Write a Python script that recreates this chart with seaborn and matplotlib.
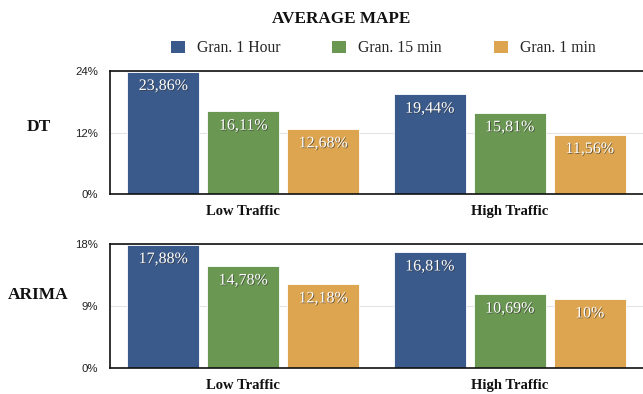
import numpy as np
import pandas as pd
import seaborn as sns
import matplotlib.pyplot as plt
import matplotlib.patheffects as pe
from matplotlib.patches import Patch

categories = ["Low Traffic", "High Traffic"]
series = ["Gran. 1 Hour", "Gran. 15 min", "Gran. 1 min"]
dt_values = {"Gran. 1 Hour": [23.86, 19.44], "Gran. 15 min": [16.11, 15.81], "Gran. 1 min": [12.68, 11.56]}
arima_values = {"Gran. 1 Hour": [17.88, 16.81], "Gran. 15 min": [14.78, 10.69], "Gran. 1 min": [12.18, 10.0]}
dt_ticks = [0, 12, 24]
arima_ticks = [0, 9, 18]
row_labels = ["DT", "ARIMA"]
colors = ["#3A5A8C", "#6A9752", "#DDA54F"]

def to_df(d):
    rows = []
    for s in series:
        for c, v in zip(categories, d[s]):
            rows.append({"cat": c, "series": s, "value": v})
    return pd.DataFrame(rows)

def fmt(v):
    s = f"{v:.2f}".replace(".", ",")
    if s.endswith(",00"):
        s = s[:-3]
    return s + "%"

sns.set_theme(style="white")
plt.rcParams["font.family"] = ["Liberation Serif", "DejaVu Sans"]

fig = plt.figure(figsize=(6.43, 3.94), dpi=100)
ax1 = fig.add_axes([0.171, 0.5076, 0.829, 0.3122])
ax2 = fig.add_axes([0.171, 0.066, 0.829, 0.3147])

label_y = [0.678, 0.251]

for ax, d, ticks, lab, ly in [(ax1, dt_values, dt_ticks, row_labels[0], label_y[0]),
                              (ax2, arima_values, arima_ticks, row_labels[1], label_y[1])]:
    df = to_df(d)
    sns.barplot(data=df, x="cat", y="value", hue="series", hue_order=series, order=categories,
                palette=colors, width=0.9, gap=0.1, ax=ax, legend=False,
                edgecolor="#ffffff", linewidth=0.6, saturation=1)
    ax.set_ylim(ticks[0], ticks[-1])
    ax.set_xlim(-0.5, 1.5)
    ax.set_yticks(ticks)
    ax.set_yticklabels([f"{t}%" for t in ticks], family="Liberation Sans", fontsize=8.2, color="#222222")
    ax.tick_params(axis="y", length=0, pad=8.5)
    ax.tick_params(axis="x", length=0, pad=8)
    ax.set_xticks([0, 1])
    ax.set_xticklabels(categories, fontsize=10.5, fontweight="bold", color="#111111")
    ax.set_xlabel("")
    ax.set_ylabel("")
    ax.yaxis.grid(True, color="#e4e4e4", linewidth=0.8)
    ax.set_axisbelow(True)
    for sp in ["left", "top", "bottom"]:
        ax.spines[sp].set_visible(True)
        ax.spines[sp].set_color("#111111")
        ax.spines[sp].set_linewidth(1.2)
    ax.spines["right"].set_visible(False)
    for cont in ax.containers:
        for bar in cont:
            h = bar.get_height()
            x = bar.get_x() + bar.get_width() / 2
            ax.annotate(fmt(h), xy=(x, min(h, ticks[-1])), xytext=(0, -4.5), textcoords="offset points",
                        ha="center", va="top", color="white", fontsize=11.5,
                        path_effects=[pe.withSimplePatchShadow(offset=(0.6, -0.6), shadow_rgbFace="#333333", alpha=0.7)])
    fig.text(0.06, ly, lab, ha="center", va="center", fontsize=12.5, fontweight="bold", color="#111111")

fig.text(0.530, 0.952, "AVERAGE MAPE", ha="center", va="center", fontsize=12.3, fontweight="bold", color="#111111")
handles = [Patch(facecolor=c, edgecolor="none") for c in colors]
fig.legend(handles, series, loc="center", bbox_to_anchor=(0.596, 0.877), ncol=3, frameon=False,
           fontsize=11.3, handlelength=0.9, handleheight=0.85, handletextpad=0.76, columnspacing=3.3,
           borderpad=0, borderaxespad=0)

fig.savefig("out.png", dpi=100)
